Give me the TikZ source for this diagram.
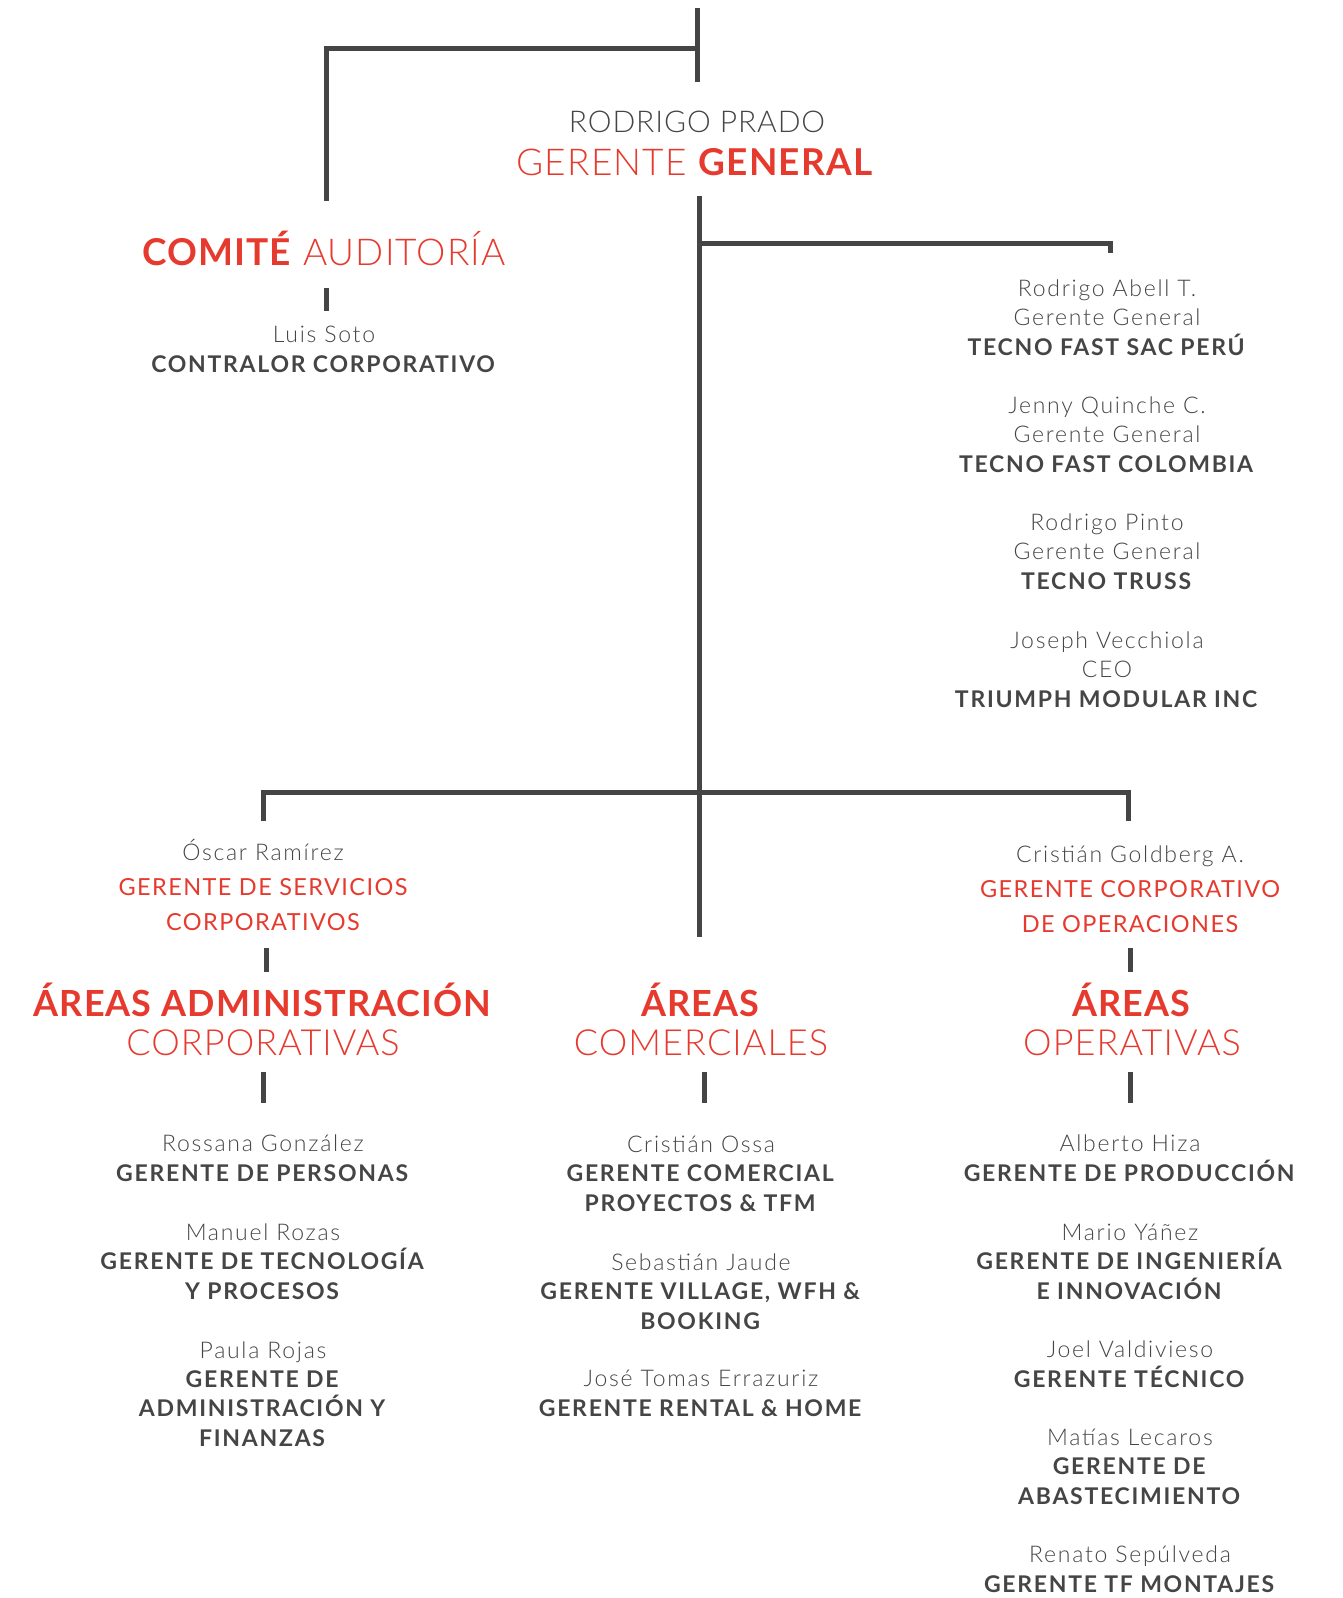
\documentclass[tikz,border=0pt]{standalone}
\usepackage{fontspec}
\setmainfont{Lato}[UprightFont=* Light, BoldFont=* Bold]
\newfontfamily\listfont{Lato}[UprightFont=* Light, BoldFont=* Bold, LetterSpace=7.5]
\newfontfamily\titlefont{Lato}[UprightFont=* Light, BoldFont=* Bold, LetterSpace=3]
\newfontfamily\rolefont{Lato}[LetterSpace=6]
\usetikzlibrary{positioning}
\definecolor{chartred}{HTML}{E63A2E}
\definecolor{chartgray}{HTML}{454545}

\begin{document}
\begin{tikzpicture}[
    x=1pt, y=-1pt,
    every node/.style={inner sep=0pt, align=center, anchor=base},
    branch/.style={
        line width=5pt,
        draw=chartgray
    },
    person/.style={
        font=\listfont\fontsize{23}{29.3}\selectfont,
        text=chartgray
    },
    rolered/.style={
        font=\rolefont\fontsize{23.5}{34.5}\selectfont,
        text=chartred
    },
    headline/.style={
        font=\titlefont\fontsize{37}{39}\selectfont,
        text=chartred
    },
    area/.style={
        font=\titlefont\fontsize{36}{39}\selectfont,
        text=chartred
    }
]
\useasboundingbox (0,0) rectangle (1342,1598);

% Top: general manager and audit committee
% (y of a node = baseline of its last line)
\node[person, font=\titlefont\fontsize{30}{32}\selectfont] (prado) at (697,132) {RODRIGO PRADO};
\node[headline] (gg) at (695,175) {GERENTE \textbf{GENERAL}};
\node[headline] (comite) at (324,265) {\textbf{COMITÉ} AUDITORÍA};
\node[person] (soto) at (324,372) {Luis Soto\\\textbf{CONTRALOR CORPORATIVO}};

% Subsidiaries
\node[person] (peru) at (1107,355) {Rodrigo Abell T.\\Gerente General\\\textbf{TECNO FAST SAC PERÚ}};
\node[person] (colombia) at (1107,472) {Jenny Quinche C.\\Gerente General\\\textbf{TECNO FAST COLOMBIA}};
\node[person] (truss) at (1107,589) {Rodrigo Pinto\\Gerente General\\\textbf{TECNO TRUSS}};
\node[person] (triumph) at (1107,707) {Joseph Vecchiola\\CEO\\\textbf{TRIUMPH MODULAR INC}};

% Second level managers
\node[person] (ramirez) at (263,860) {Óscar Ramírez};
\node[rolered] (servicios) at (263,930) {GERENTE DE SERVICIOS\\CORPORATIVOS};
\node[person] (goldberg) at (1130,862) {Cristián Goldberg A.};
\node[rolered] (operaciones) at (1130,932) {GERENTE CORPORATIVO\\DE OPERACIONES};

% Areas
\node[area] (admin) at (263,1055) {\textbf{ÁREAS ADMINISTRACIÓN}\\CORPORATIVAS};
\node[area] (comerciales) at (701,1055) {\textbf{ÁREAS}\\COMERCIALES};
\node[area] (operativas) at (1132,1055) {\textbf{ÁREAS}\\OPERATIVAS};

% Column 1: administracion
\node[person] (gonzalez) at (263,1181) {Rossana González\\\textbf{GERENTE DE PERSONAS}};
\node[person] (rozas) at (263,1299) {Manuel Rozas\\\textbf{GERENTE DE TECNOLOGÍA}\\\textbf{Y PROCESOS}};
\node[person] (rojas) at (263,1446) {Paula Rojas\\\textbf{GERENTE DE}\\\textbf{ADMINISTRACIÓN Y}\\\textbf{FINANZAS}};

% Column 2: comerciales
\node[person] (ossa) at (701,1211) {Cristián Ossa\\\textbf{GERENTE COMERCIAL}\\\textbf{PROYECTOS \& TFM}};
\node[person] (jaude) at (701,1329) {Sebastián Jaude\\\textbf{GERENTE VILLAGE, WFH \&}\\\textbf{BOOKING}};
\node[person] (errazuriz) at (701,1416) {José Tomas Errazuriz\\\textbf{GERENTE RENTAL \& HOME}};

% Column 3: operativas
\node[person] (hiza) at (1130,1181) {Alberto Hiza\\\textbf{GERENTE DE PRODUCCIÓN}};
\node[person] (yanez) at (1130,1299) {Mario Yáñez\\\textbf{GERENTE DE INGENIERÍA}\\\textbf{E INNOVACIÓN}};
\node[person] (valdivieso) at (1130,1387) {Joel Valdivieso\\\textbf{GERENTE TÉCNICO}};
\node[person] (lecaros) at (1130,1504) {Matías Lecaros\\\textbf{GERENTE DE}\\\textbf{ABASTECIMIENTO}};
\node[person] (sepulveda) at (1130,1592) {Renato Sepúlveda\\\textbf{GERENTE TF MONTAJES}};

% Branch points
\coordinate (topend) at (697,8);
\coordinate (topjoin) at (697,48);
\coordinate (topfoot) at (697,82);
\coordinate (comitehead) at (326,201);
\coordinate (trunktop) at (699,196);
\coordinate (trunkfoot) at (699,937);
\coordinate (subjoin) at (699,243);
\coordinate (subfoot) at (1110,253);
\coordinate (barleft) at (263,821);
\coordinate (barright) at (1128,821);
\coordinate (barjoin) at (1128,792);

% Lines - top
\draw[branch] (topend) -- (topfoot);
\draw[branch] (comitehead) |- (topjoin);
\draw[branch] (trunktop) -- (trunkfoot);
\draw[branch] (subjoin) -| (subfoot);
\draw[branch] (barleft) |- (barjoin) -- (barright);

% Short ticks between blocks
\coordinate (sotoa) at (326,288);    \coordinate (sotob) at (326,311);
\coordinate (servica) at (266,948);  \coordinate (servicb) at (266,972);
\coordinate (operaca) at (1130,948); \coordinate (operacb) at (1130,972);
\coordinate (admina) at (263,1072);  \coordinate (adminb) at (263,1103);
\coordinate (comera) at (704,1072);  \coordinate (comerb) at (704,1103);
\coordinate (operata) at (1130,1072); \coordinate (operatb) at (1130,1103);
\draw[branch] (sotoa) -- (sotob);
\draw[branch] (servica) -- (servicb);
\draw[branch] (operaca) -- (operacb);
\draw[branch] (admina) -- (adminb);
\draw[branch] (comera) -- (comerb);
\draw[branch] (operata) -- (operatb);

\end{tikzpicture}
\end{document}
